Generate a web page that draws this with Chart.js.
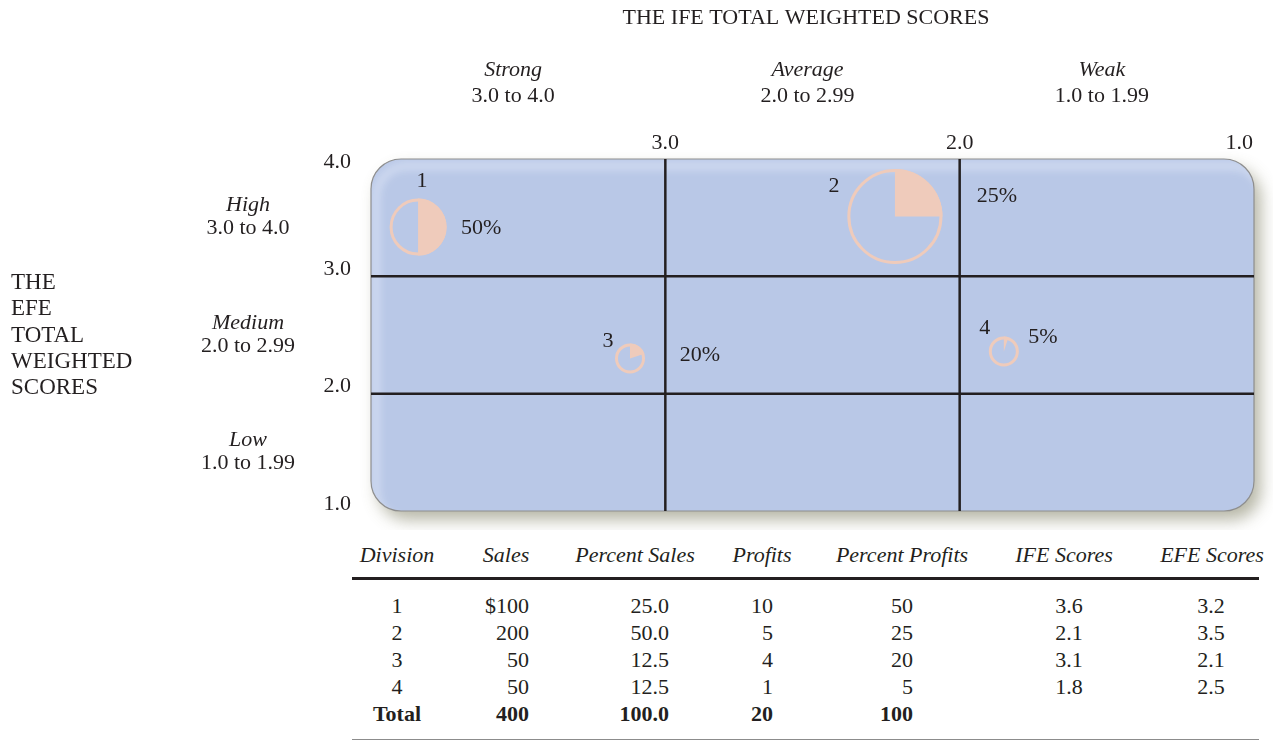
<!DOCTYPE html>
<html>
<head>
<meta charset="utf-8">
<script src="https://cdn.jsdelivr.net/npm/chart.js@4/dist/chart.umd.min.js"></script>
<style>
  body { margin: 0; background: #fff; width: 1273px; height: 740px; overflow: hidden; position: relative;
         font-family: 'Liberation Serif', serif; color: #231f20; }
  #wrap { position: absolute; left: 0; top: 0; width: 1273px; height: 530px; }
  .cell { position: absolute; font-size: 22px; line-height: 1; white-space: nowrap; }
  .hdr { font-style: italic; }
  .tot { font-weight: bold; }
  .rule { position: absolute; left: 352px; width: 907px; }
</style>
</head>
<body>
<div id="wrap"><canvas id="ie"></canvas></div>
<div id="table"></div>
<div class="rule" style="top:577px;height:3px;background:#231f20"></div>
<div class="rule" style="top:739px;height:1px;background:#8c8c8c"></div>

<script>
/* ---------- data ---------- */
const divisions   = ['1', '2', '3', '4'];
const sales       = [100, 200, 50, 50];
const pctSales    = [25.0, 50.0, 12.5, 12.5];
const profits     = [10, 5, 4, 1];
const pctProfits  = [50, 25, 20, 5];
const ifeScores   = [3.6, 2.1, 3.1, 1.8];
const efeScores   = [3.2, 3.5, 2.1, 2.5];
const totals      = ['Total', '400', '100.0', '20', '100'];

// where the circles actually sit in the figure
const plotIFE     = [3.84, 2.22, 3.12, 1.85];
const plotEFE     = [3.42, 3.51, 2.30, 2.36];

const xTicks      = [3.0, 2.0, 1.0];
const yTicks      = [4.0, 3.0, 2.0, 1.0];
const ifeBands    = ['Strong', 'Average', 'Weak'];
const efeBands    = ['High', 'Medium', 'Low'];
const bandRanges  = ['3.0 to 4.0', '2.0 to 2.99', '1.0 to 1.99'];
const bandLimits  = [[4, 3], [3, 2], [2, 1]];
const headers     = ['Division', 'Sales', 'Percent Sales', 'Profits', 'Percent Profits', 'IFE Scores', 'EFE Scores'];

/* ---------- style ---------- */
const INK = '#231f20';
const PEACH = '#efcbbb';
const FONT = '"Liberation Serif", serif';
// label offsets (px) from each circle centre: [numDx, numDy, pctDx, pctDy]
const labelOffsets = [[4, -46, 63, 1], [-61, -30, 102, -20], [-22, -17, 70, -3], [-19, -23, 39, -14]];

function bubbleRadius(s) { return 4.6 * Math.sqrt(s) - 19; }

function fmtSales(v, i) { return i === 0 ? '$' + v : String(v); }

function roundRect(ctx, x, y, w, h, r) {
  ctx.beginPath();
  ctx.moveTo(x + r, y);
  ctx.lineTo(x + w - r, y);
  ctx.arcTo(x + w, y, x + w, y + r, r);
  ctx.lineTo(x + w, y + h - r);
  ctx.arcTo(x + w, y + h, x + w - r, y + h, r);
  ctx.lineTo(x + r, y + h);
  ctx.arcTo(x, y + h, x, y + h - r, r);
  ctx.lineTo(x, y + r);
  ctx.arcTo(x, y, x + r, y, r);
  ctx.closePath();
}

const matrixPlugin = {
  id: 'ieMatrix',
  beforeDatasetsDraw(chart) {
    const { ctx, chartArea: a, scales: { x, y } } = chart;
    ctx.save();

    // panel with drop shadow
    roundRect(ctx, a.left, a.top, a.right - a.left, a.bottom - a.top, 30);
    ctx.shadowColor = 'rgba(95,95,60,0.45)';
    ctx.shadowBlur = 16;
    ctx.shadowOffsetX = 7;
    ctx.shadowOffsetY = 9;
    ctx.fillStyle = '#b9c8e7';
    ctx.fill();
    ctx.shadowColor = 'transparent';

    // soft inner glow
    ctx.save();
    roundRect(ctx, a.left, a.top, a.right - a.left, a.bottom - a.top, 30);
    ctx.clip();
    ctx.shadowColor = 'rgba(235,240,252,0.95)';
    ctx.shadowBlur = 10;
    ctx.lineWidth = 4;
    ctx.strokeStyle = '#d6def2';
    roundRect(ctx, a.left - 2, a.top - 2, a.right - a.left + 4, a.bottom - a.top + 4, 31);
    ctx.stroke();
    ctx.restore();

    roundRect(ctx, a.left, a.top, a.right - a.left, a.bottom - a.top, 30);
    ctx.lineWidth = 1.2;
    ctx.strokeStyle = '#8e8e8e';
    ctx.stroke();

    // grid lines at the band borders
    ctx.strokeStyle = INK;
    ctx.lineWidth = 2.5;
    [3, 2].forEach(v => {
      const px = x.getPixelForValue(v);
      ctx.beginPath(); ctx.moveTo(px, a.top); ctx.lineTo(px, a.bottom); ctx.stroke();
      const py = y.getPixelForValue(v);
      ctx.beginPath(); ctx.moveTo(a.left, py); ctx.lineTo(a.right, py); ctx.stroke();
    });

    // texts
    ctx.fillStyle = INK;
    ctx.textBaseline = 'middle';
    ctx.font = '22px ' + FONT;
    ctx.textAlign = 'center';
    ctx.fillText('THE IFE TOTAL WEIGHTED SCORES', 806, 18);

    bandLimits.forEach(([hi, lo], i) => {
      const cx = (x.getPixelForValue(hi) + x.getPixelForValue(lo)) / 2 - 5;
      ctx.font = 'italic 22px ' + FONT;
      ctx.fillText(ifeBands[i], cx, 70);
      ctx.font = '22px ' + FONT;
      ctx.fillText(bandRanges[i], cx, 96);

      const cy = (y.getPixelForValue(hi) + y.getPixelForValue(lo)) / 2;
      ctx.font = 'italic 22px ' + FONT;
      ctx.fillText(efeBands[i], 248, cy - 12);
      ctx.font = '22px ' + FONT;
      ctx.fillText(bandRanges[i], 248, cy + 11);
    });

    ctx.font = '22px ' + FONT;
    xTicks.forEach(v => {
      const px = x.getPixelForValue(v);
      if (v === 1) { ctx.textAlign = 'right'; ctx.fillText(v.toFixed(1), px - 1, 143); }
      else { ctx.textAlign = 'center'; ctx.fillText(v.toFixed(1), px, 143); }
    });
    ctx.textAlign = 'right';
    yTicks.forEach(v => {
      let py = y.getPixelForValue(v) - 7;
      py = Math.max(py, a.top + 3);
      ctx.fillText(v.toFixed(1), 351, py);
    });

    ctx.font = '23px ' + FONT;
    ctx.textAlign = 'left';
    ['THE', 'EFE', 'TOTAL', 'WEIGHTED', 'SCORES'].forEach((t, i) => ctx.fillText(t, 11, 283 + i * 26.3));
    ctx.restore();
  },
  afterDatasetsDraw(chart) {
    const { ctx } = chart;
    const meta = chart.getDatasetMeta(0);
    ctx.save();
    meta.data.forEach((pt, i) => {
      const r = bubbleRadius(sales[i]) + 1.5;
      const start = -Math.PI / 2;
      const end = start + (pctProfits[i] / 100) * Math.PI * 2;
      ctx.beginPath();
      ctx.moveTo(pt.x, pt.y);
      ctx.arc(pt.x, pt.y, r, start, end);
      ctx.closePath();
      ctx.fillStyle = PEACH;
      ctx.fill();

      const o = labelOffsets[i];
      ctx.fillStyle = INK;
      ctx.textBaseline = 'middle';
      ctx.textAlign = 'center';
      ctx.font = '22px ' + FONT;
      ctx.fillText(divisions[i], pt.x + o[0], pt.y + o[1]);
      ctx.fillText(pctProfits[i] + '%', pt.x + o[2], pt.y + o[3]);
    });
    ctx.restore();
  }
};

new Chart(document.getElementById('ie'), {
  type: 'bubble',
  data: {
    datasets: [{
      label: 'Divisions',
      data: divisions.map((d, i) => ({ x: plotIFE[i], y: plotEFE[i], r: bubbleRadius(sales[i]) })),
      backgroundColor: 'rgba(0,0,0,0)',
      borderColor: PEACH,
      borderWidth: 3,
      hoverBorderWidth: 3
    }]
  },
  options: {
    responsive: true,
    maintainAspectRatio: false,
    animation: false,
    events: [],
    layout: { autoPadding: false, padding: { left: 371, right: 19, top: 159, bottom: 19 } },
    plugins: { legend: { display: false }, tooltip: { enabled: false } },
    scales: {
      x: { type: 'linear', min: 1, max: 4, reverse: true, display: false },
      y: { type: 'linear', min: 1, max: 4, display: false }
    }
  },
  plugins: [matrixPlugin]
});

/* ---------- table ---------- */
const table = document.getElementById('table');
function addCell(text, x, y, align, cls) {
  const s = document.createElement('span');
  s.className = 'cell ' + (cls || '');
  s.textContent = text;
  s.style.top = y + 'px';
  if (align === 'right') {
    s.style.right = (1273 - x) + 'px';
    s.style.transform = 'translateY(-50%)';
  } else {
    s.style.left = x + 'px';
    s.style.transform = 'translate(-50%,-50%)';
  }
  table.appendChild(s);
}

const hdrX = [397, 506, 635, 762, 902, 1064, 1212];
headers.forEach((h, i) => addCell(h, hdrX[i], 555, 'center', 'hdr'));

const colX = [397, 529, 669, 773, 913, 1069, 1211];
const colAlign = ['center', 'right', 'right', 'right', 'right', 'center', 'center'];
const rowY = [606, 633, 660, 687];
divisions.forEach((d, i) => {
  const vals = [d, fmtSales(sales[i], i), pctSales[i].toFixed(1), profits[i], pctProfits[i],
                ifeScores[i].toFixed(1), efeScores[i].toFixed(1)];
  vals.forEach((v, c) => addCell(String(v), colX[c], rowY[i], colAlign[c]));
});
totals.forEach((v, c) => addCell(v, colX[c], 714, colAlign[c], 'tot'));
</script>
</body>
</html>
